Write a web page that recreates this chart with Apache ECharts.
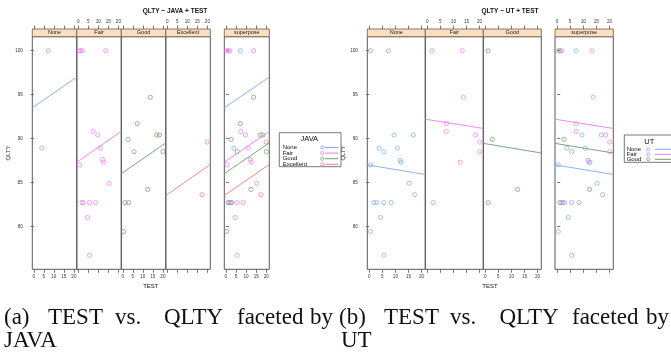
<!DOCTYPE html>
<html>
<head>
<meta charset="utf-8">
<script src="https://cdn.jsdelivr.net/npm/echarts@6/dist/echarts.min.js"></script>
<style>
  html, body { margin: 0; padding: 0; background: #fff; }
  #chart { width: 671px; height: 356px; }
</style>
</head>
<body>
<div id="chart"></div>
<script>
// [TEST, QLTY] points, one array per panel
const javaNone = [[7.2, 100], [4.0, 88.9]];
const javaFair = [
  [0.5, 100], [1.2, 100], [2.0, 100], [13.7, 100], [7.4, 90.8], [9.7, 90.4],
  [11.0, 88.9], [12.1, 87.6], [12.6, 87.3], [0.6, 87.0], [15.3, 84.9],
  [1.8, 82.7], [2.4, 82.7], [5.6, 82.7], [8.6, 82.7], [4.6, 81.0], [5.6, 76.7]
];
const javaGood = [
  [13.7, 94.7], [7.2, 91.7], [2.6, 89.9], [17.0, 90.4], [18.3, 90.4], [5.6, 88.5],
  [20.0, 88.5], [12.4, 84.2], [1.1, 82.7], [2.9, 82.7], [0.4, 79.4]
];
const javaExcellent = [[19.9, 89.6], [17.3, 83.6]];

const utNone = [
  [0.5, 100], [7.3, 100], [9.5, 90.4], [16.9, 90.4], [3.8, 88.9], [10.8, 88.9],
  [5.6, 88.5], [11.8, 87.5], [12.2, 87.3], [0.5, 87.0], [15.3, 84.9], [17.4, 83.6],
  [1.8, 82.7], [2.9, 82.7], [5.6, 82.7], [8.4, 82.7], [4.3, 81.0], [0.5, 79.4], [5.6, 76.7]
];
const utFair = [
  [1.8, 100], [13.4, 100], [13.8, 94.7], [7.3, 91.7], [7.3, 90.8], [18.5, 90.4],
  [20.1, 89.6], [20.1, 88.5], [12.6, 87.3], [2.3, 82.7]
];
const utGood = [[1.1, 100], [2.7, 89.9], [12.4, 84.2], [1.1, 82.7]];

// lm lines: QLTY at the left and right edge of the panel
const javaFits = [[93.5, 97.0], [87.3, 90.8], [86.0, 89.5], [83.5, 87.05]];
const utFits = [[87.0, 85.9], [92.2, 91.15], [89.45, 88.35]];

const javaLevels = ["None", "Fair", "Good", "Excellent"];
const utLevels = ["None", "Fair", "Good"];
const xTicks = [0, 5, 10, 15, 20];
const yTicks = [80, 85, 90, 95, 100];

const colors = ["#7eaaf4", "#f07af0", "#6c9d6c", "#f27c7c"];
const FONT = "Liberation Sans";
const X_MIN = -0.75, X_MAX = 21.45, Y_MIN = 75.1, Y_MAX = 101.6;
const PANEL_TOP = 36.7, PANEL_H = 232.6, STRIP_H = 7.7;

const chart = echarts.init(document.getElementById("chart"), null, { renderer: "canvas" });

const grid = [], xAxis = [], yAxis = [], series = [], graphic = [];

function xCfg(gi, pos, labelled) {
  return {
    gridIndex: gi, type: "value", position: pos, min: X_MIN, max: X_MAX,
    offset: pos === "top" ? STRIP_H : 0,
    axisLine: { show: false }, splitLine: { show: false },
    axisTick: { show: true, length: 3.5, customValues: xTicks, lineStyle: { color: "#555", width: 0.8 } },
    axisLabel: { show: labelled, customValues: xTicks, fontSize: 4.6, margin: 4.8, color: "#333", fontFamily: FONT }
  };
}

function addPanel(left, width, strip, groups, fits, datasets, labelTop, yLeft, yRight) {
  const gi = grid.length;
  grid.push({ left, top: PANEL_TOP, width, height: PANEL_H, show: true, borderColor: "#5a5a5a", borderWidth: 1 });
  const xi = xAxis.length;
  xAxis.push(xCfg(gi, "bottom", !labelTop));
  xAxis.push(xCfg(gi, "top", labelTop));
  const yi = yAxis.length;
  yAxis.push({
    gridIndex: gi, type: "value", position: yRight ? "right" : "left", min: Y_MIN, max: Y_MAX,
    show: yLeft || yRight,
    name: yLeft ? "QLTY" : "", nameLocation: "middle", nameGap: 18, nameRotate: 90,
    nameTextStyle: { fontSize: 6, fontFamily: FONT, color: "#333" },
    axisLine: { show: false }, splitLine: { show: false },
    axisTick: { show: true, length: 3.3, customValues: yTicks, lineStyle: { color: "#555", width: 0.8 } },
    axisLabel: { show: yLeft, customValues: yTicks, fontSize: 4.6, margin: 9.5, color: "#333", fontFamily: FONT }
  });
  groups.forEach(g => {
    series.push({
      type: "scatter", xAxisIndex: xi, yAxisIndex: yi, data: datasets[g],
      symbol: "circle", symbolSize: 4.2, silent: true,
      itemStyle: { color: "rgba(0,0,0,0)", borderColor: colors[g], borderWidth: 0.9 }
    });
    series.push({
      type: "line", xAxisIndex: xi, yAxisIndex: yi, showSymbol: false, silent: true,
      data: [[X_MIN, fits[g][0]], [X_MAX, fits[g][1]]],
      lineStyle: { color: colors[g], width: 0.9 }
    });
  });
  // strip
  graphic.push({
    type: "rect", shape: { x: left, y: PANEL_TOP - STRIP_H, width, height: STRIP_H },
    style: { fill: "#fddfc0", stroke: "#6a5a4a", lineWidth: 0.8 }
  });
  graphic.push({
    type: "text", x: left + width / 2, y: PANEL_TOP - STRIP_H / 2,
    style: { text: strip, fill: "#222", font: "5.5px " + FONT, textAlign: "center", textVerticalAlign: "middle" }
  });
}

function addPlot(levels, datasets, fits, left0, w, supLeft, supW) {
  levels.forEach((lv, i) => {
    addPanel(left0 + i * w, w, lv, [i], fits, datasets, i % 2 === 1, i === 0, false);
  });
  const n = levels.length;
  addPanel(supLeft, supW, "superpose", levels.map((_, i) => i), fits, datasets, n % 2 === 1, false, true);
}

addPlot(javaLevels, [javaNone, javaFair, javaGood, javaExcellent], javaFits, 32.3, 44.5, 224.3, 45);
addPlot(utLevels, [utNone, utFair, utGood], utFits, 367.3, 58, 555, 58.3);

function text(x, y, str, font, align) {
  graphic.push({
    type: "text", x, y,
    style: { text: str, font, fill: "#111", textAlign: align || "center", textVerticalAlign: "middle" }
  });
}

// titles and axis names
text(175, 11, "QLTY ~ JAVA + TEST", "bold 6.5px " + FONT);
text(510, 11, "QLTY ~ UT + TEST", "bold 6.5px " + FONT);
text(150.8, 286, "TEST", "6px " + FONT);
text(490, 286, "TEST", "6px " + FONT);

// keys
function addKey(x, y, w, h, title, titleX, titleY, levels, rowY, rowGap, textX, symX, lineX0, lineX1) {
  graphic.push({
    type: "rect", shape: { x, y, width: w, height: h },
    style: { fill: "#fff", stroke: "#555", lineWidth: 0.8 }
  });
  text(titleX, titleY, title, "7.5px " + FONT);
  levels.forEach((lv, i) => {
    const yy = rowY + i * rowGap;
    text(textX, yy, lv, "6px " + FONT, "left");
    graphic.push({
      type: "circle", shape: { cx: symX, cy: yy, r: 1.6 },
      style: { fill: "none", stroke: colors[i], lineWidth: 0.8 }
    });
    graphic.push({
      type: "line", shape: { x1: lineX0, y1: yy, x2: lineX1, y2: yy },
      style: { stroke: colors[i], lineWidth: 1 }
    });
  });
}
addKey(279.3, 132.7, 61.7, 34, "JAVA", 309.3, 139.3, javaLevels, 147.5, 5.6, 282.7, 322.3, 325, 338.3);
addKey(624.3, 135, 60, 27.3, "UT", 649.3, 141.7, utLevels, 149.3, 5, 626.7, 648.3, 655, 676);

// captions, word by word (justified)
const capFont = "23px 'Liberation Serif'";
const capA = [["(a)", 4], ["TEST", 48], ["vs.", 115], ["QLTY", 164], ["faceted", 237], ["by", 310]];
const capB = [["(b)", 339], ["TEST", 384], ["vs.", 450], ["QLTY", 499.5], ["faceted", 572], ["by", 646]];
capA.concat(capB).forEach(([w, x]) => text(x, 318, w, capFont, "left"));
text(4, 341, "JAVA", capFont, "left");
text(341, 341, "UT", capFont, "left");

chart.setOption({
  animation: false,
  backgroundColor: "#fff",
  grid, xAxis, yAxis, series, graphic
});
</script>
</body>
</html>
